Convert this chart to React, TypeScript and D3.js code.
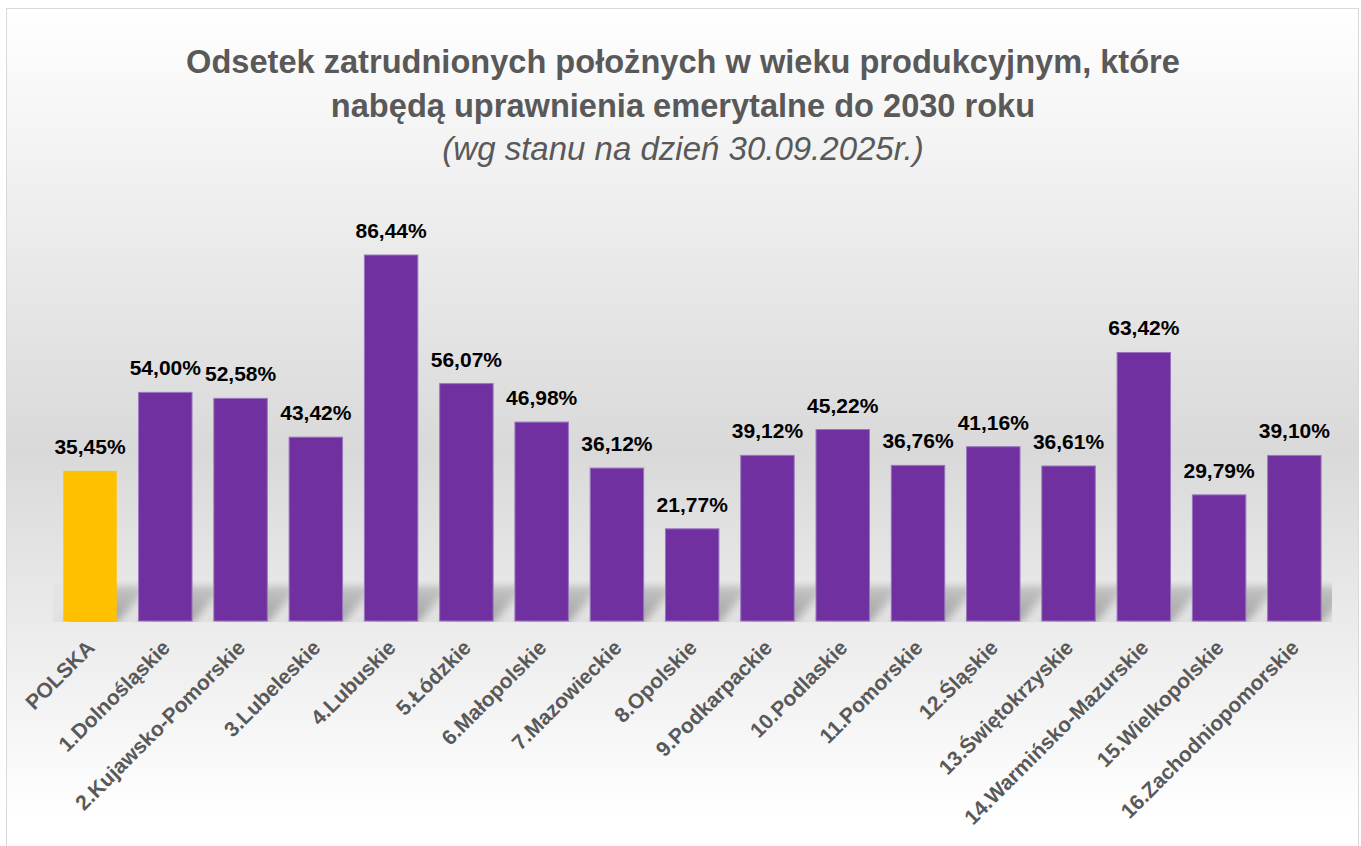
import React from "react";
import * as d3 from "d3";

const categories: string[] = [
  "POLSKA",
  "1.Dolnośląskie",
  "2.Kujawsko-Pomorskie",
  "3.Lubeleskie",
  "4.Lubuskie",
  "5.Łódzkie",
  "6.Małopolskie",
  "7.Mazowieckie",
  "8.Opolskie",
  "9.Podkarpackie",
  "10.Podlaskie",
  "11.Pomorskie",
  "12.Śląskie",
  "13.Świętokrzyskie",
  "14.Warmińsko-Mazurskie",
  "15.Wielkopolskie",
  "16.Zachodniopomorskie",
];

const values: number[] = [
  35.45, 54.0, 52.58, 43.42, 86.44, 56.07, 46.98, 36.12, 21.77, 39.12, 45.22,
  36.76, 41.16, 36.61, 63.42, 29.79, 39.1,
];

const titleLines: string[] = [
  "Odsetek zatrudnionych położnych w wieku produkcyjnym, które",
  "nabędą uprawnienia emerytalne do 2030 roku",
];
const subtitle = "(wg stanu na dzień 30.09.2025r.)";

const W = 1361;
const H = 846;
const plotLeft = 52.4;
const plotRight = 1332;
const baseY = 621;
const plotBottom = 622;
const shadowTop = 580;

const fmt = (v: number) => v.toFixed(2).replace(".", ",") + "%";

export default function App() {
  const x = d3
    .scaleBand<string>()
    .domain(categories)
    .range([plotLeft, plotRight])
    .paddingInner(0.29)
    .paddingOuter(0.145);
  const y = d3.scaleLinear().domain([0, 100]).range([baseY, 197.6]);
  const bw = x.bandwidth();

  const font = "'Liberation Sans', Arial, sans-serif";

  return (
    <svg
      width={W}
      height={H}
      style={{ position: "absolute", left: 0, top: 0, display: "block" }}
    >
      <defs>
        <linearGradient id="bg" gradientUnits="userSpaceOnUse" x1="0" y1="8" x2="0" y2="816">
          <stop offset="0" stopColor="#ffffff" />
          <stop offset="0.55" stopColor="#d9d9d9" />
          <stop offset="1" stopColor="#ffffff" />
        </linearGradient>
        <linearGradient id="fadeG" gradientUnits="userSpaceOnUse" x1="0" y1={shadowTop} x2="0" y2={plotBottom}>
          <stop offset="0" stopColor="#000" />
          <stop offset="0.35" stopColor="#fff" stopOpacity={0.6} />
          <stop offset="1" stopColor="#fff" />
        </linearGradient>
        <mask id="fadeMask" maskUnits="userSpaceOnUse" x={0} y={0} width={W} height={H}>
          <rect x={plotLeft} y={shadowTop} width={plotRight - plotLeft} height={plotBottom - shadowTop} fill="url(#fadeG)" />
        </mask>
        <filter id="blur" x="-50%" y="-50%" width="200%" height="200%">
          <feGaussianBlur stdDeviation="4" />
        </filter>
        <clipPath id="shadowClip">
          <rect x={plotLeft} y={shadowTop} width={plotRight - plotLeft} height={plotBottom - shadowTop} />
        </clipPath>
      </defs>
      <rect x={0} y={0} width={W} height={H} fill="#ffffff" />
      <rect x={6.5} y={8.5} width={1352} height={808} fill="url(#bg)" stroke="none" />
      <rect x={6.5} y={8.5} width={1352} height={850} fill="none" stroke="#d9d9d9" strokeWidth={1} />

      {/* title */}
      <text x={683} y={73} textAnchor="middle" fontFamily={font} fontWeight="bold" fontSize={32.6} fill="#595959">
        {titleLines[0]}
      </text>
      <text x={683} y={117} textAnchor="middle" fontFamily={font} fontWeight="bold" fontSize={32.6} fill="#595959">
        {titleLines[1]}
      </text>
      <text x={683} y={160} textAnchor="middle" fontFamily={font} fontStyle="italic" fontSize={33} fill="#595959">
        {subtitle}
      </text>

      {/* floor shadows */}
      <g clipPath="url(#shadowClip)">
        <g mask="url(#fadeMask)">
          <rect x={plotLeft} y={shadowTop} width={plotRight - plotLeft} height={plotBottom - shadowTop} fill="#000" opacity={0.03} />
          <g filter="url(#blur)">
            {categories.map((c) => {
              const x0 = x(c)!;
              const x1 = x0 + bw;
              const sk = 34;
              const hh = 38;
              return (
                <polygon
                  key={"s" + c}
                  points={`${x0},${baseY + 2} ${x1},${baseY + 2} ${x1 + sk},${baseY - hh} ${x0 + sk},${baseY - hh}`}
                  fill="#6a6a6a"
                  opacity={0.55}
                />
              );
            })}
          </g>
        </g>
      </g>

      {/* bars */}
      {categories.map((c, i) => (
        <rect
          key={c}
          x={x(c)!}
          y={y(values[i])}
          width={bw}
          height={baseY - y(values[i])}
          fill={i === 0 ? "#FFC000" : "#7030A0"}
          stroke={i === 0 ? "none" : "#9a74c0"}
          strokeWidth={1}
        />
      ))}

      {/* data labels */}
      {categories.map((c, i) => (
        <text
          key={"l" + c}
          x={x(c)! + bw / 2}
          y={y(values[i]) - 17}
          textAnchor="middle"
          fontFamily={font}
          fontWeight="bold"
          fontSize={21}
          fill="#000000"
        >
          {fmt(values[i])}
        </text>
      ))}

      {/* category labels */}
      {categories.map((c) => {
        const cx = x(c)! + bw / 2 + 6;
        const cy = 649;
        return (
          <text
            key={"c" + c}
            transform={`translate(${cx},${cy}) rotate(-45)`}
            textAnchor="end"
            fontFamily={font}
            fontWeight="bold"
            fontSize={21}
            fill="#595959"
          >
            {c}
          </text>
        );
      })}
    </svg>
  );
}
